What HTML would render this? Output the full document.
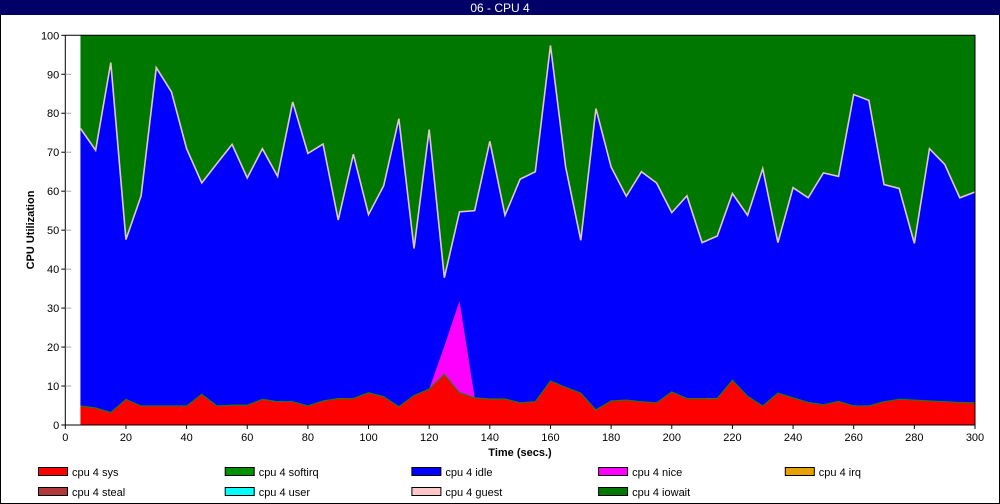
<!DOCTYPE html>
<html><head><meta charset="utf-8"><style>
body{margin:0;background:#fff;}
svg{display:block;font-family:"Liberation Sans",sans-serif;}
</style></head><body>
<svg id="c" width="1000" height="504">
<rect x="0.5" y="0.5" width="999" height="503" fill="#fff" stroke="#000"/>
<rect x="0" y="0" width="1000" height="15" fill="#000066"/>
<text x="500" y="12" fill="#fff" font-size="12" text-anchor="middle">06 - CPU 4</text>
<g id="plot"></g>
<text x="34" y="230" font-size="11" font-weight="bold" text-anchor="middle" transform="rotate(-90 34 230)">CPU Utilization</text>
<text x="520" y="456" font-size="11" font-weight="bold" text-anchor="middle">Time (secs.)</text>
<g id="legend"></g>
</svg>
<script>
const times=[5,10,15,20,25,30,35,40,45,50,55,60,65,70,75,80,85,90,95,100,105,110,115,120,125,130,135,140,145,150,155,160,165,170,175,180,185,190,195,200,205,210,215,220,225,230,235,240,245,250,255,260,265,270,275,280,285,290,295,300];
const sysVals=[4.9,4.4,3.2,6.6,4.9,4.9,4.9,4.9,7.9,4.9,5.1,5.1,6.6,6.0,6.0,4.9,6.2,6.8,6.8,8.3,7.3,4.7,7.6,9.2,13.0,8.3,7.0,6.7,6.7,5.7,6.0,11.3,9.7,8.2,3.9,6.2,6.4,6.0,5.7,8.5,6.8,6.8,6.8,11.5,7.4,4.9,8.2,7.0,5.8,5.2,6.1,4.9,4.9,6.0,6.6,6.4,6.2,6.0,5.8,5.7];
const niceVals=[0,0,0,0,0,0,0,0,0,0,0,0,0,0,0,0,0,0,0,0,0,0,0,0,7.2,23.5,0,0,0,0,0,0,0,0,0,0,0,0,0,0,0,0,0,0,0,0,0,0,0,0,0,0,0,0,0,0,0,0,0,0];
const topVals=[76.1,70.5,93.0,47.6,58.8,91.7,85.5,70.9,62.1,67.1,72.0,63.4,70.9,63.8,82.9,69.7,72.1,52.6,69.5,54.0,61.4,78.6,45.3,75.8,37.8,54.7,55.0,72.8,53.8,63.1,65.0,97.4,66.2,47.4,81.2,66.2,58.7,65.0,62.1,54.5,58.8,46.8,48.5,59.4,53.8,65.8,46.8,60.9,58.3,64.7,63.8,84.8,83.3,61.7,60.7,46.6,70.9,66.9,58.3,59.8];
const idleVals=topVals.map((t,i)=>t-sysVals[i]-niceVals[i]);
const yTicks=[0,10,20,30,40,50,60,70,80,90,100];
const xTicks=[0,20,40,60,80,100,120,140,160,180,200,220,240,260,280,300];
const legendNames=["cpu 4 sys","cpu 4 softirq","cpu 4 idle","cpu 4 nice","cpu 4 irq","cpu 4 steal","cpu 4 user","cpu 4 guest","cpu 4 iowait"];
const legendColors=["#ff0000","#009000","#0000ff","#ff00ff","#e8a000","#b03838","#00ffff","#ffc8c8","#007800"];

const X0=65.3,X1=975,Y0=425,Y1=35.3;
const xs=t=>X0+(X1-X0)*t/300;
const ys=v=>Y0-(Y0-Y1)*v/100;
const NS="http://www.w3.org/2000/svg";
const plot=document.getElementById('plot');
function mk(tag,attrs,parent){const e=document.createElementNS(NS,tag);for(const k in attrs)e.setAttribute(k,attrs[k]);(parent||plot).appendChild(e);return e;}

// iowait background
const bg=mk('rect',{x:xs(times[0]),y:Y1,width:xs(300)-xs(times[0]),height:Y0-Y1,fill:'#007800'});



const s1=sysVals, s2=sysVals.map((v,i)=>v+niceVals[i]), s3=s2.map((v,i)=>v+idleVals[i]);
function band(lo,hi,color,name){
  let d='M'+times.map((t,i)=>xs(t)+','+ys(hi[i])).join('L');
  for(let i=times.length-1;i>=0;i--)d+='L'+xs(times[i])+','+ys(lo?lo[i]:0);
  const p=mk('path',{d:d+'Z',fill:color});
  
  
}
band(s2,s3,'#0000ff','area-idle');
band(s1,s2,'#ff00ff','area-nice');
band(null,s1,'#ff0000','area-sys');
function line(vals,color,w,name){
  const p=mk('polyline',{points:times.map((t,i)=>xs(t)+','+ys(vals[i])).join(' '),fill:'none',stroke:color,'stroke-width':w});
  
  
}
line(s1,'#009000',1,'line-softirq');
line(s3,'#e0c8c8',1.6,'line-guest');

// axes
const ax=mk('path',{d:`M${X0},${Y1}V${Y0}H${X1}V${Y1}H${X0}`,fill:'none',stroke:'#000','stroke-width':1});


yTicks.forEach(v=>{
  const y=ys(v);
  if(v>0&&v<100){const g=mk('line',{x1:X0,x2:X0+6,y1:y,y2:y,stroke:'#aaa'});}
  const tk=mk('line',{x1:X0-4,x2:X0,y1:y,y2:y,stroke:'#000'});
  
  
  const tx=mk('text',{x:X0-6,y:y+4,'font-size':11,'text-anchor':'end'});
  tx.textContent=v;
  
  
});
xTicks.forEach(v=>{
  const x=xs(v);
  const tk=mk('line',{x1:x,x2:x,y1:Y0,y2:Y0+4,stroke:'#000'});
  
  
  const tx=mk('text',{x:x,y:Y0+16,'font-size':11,'text-anchor':'middle'});
  tx.textContent=v;
  
  
});

// legend
const lg=document.getElementById('legend');
legendNames.forEach((n,i)=>{
  const col=i%5,row=Math.floor(i/5);
  const x=38+col*186.7,y=467+row*20;
  const r=mk('rect',{x:x+0.5,y:y+0.5,width:29,height:8,fill:legendColors[i],stroke:'#000'},lg);
  
  
  const t=mk('text',{x:x+34,y:y+9,'font-size':11},lg);
  t.textContent=n;
  
  
});
</script>
</body></html>
